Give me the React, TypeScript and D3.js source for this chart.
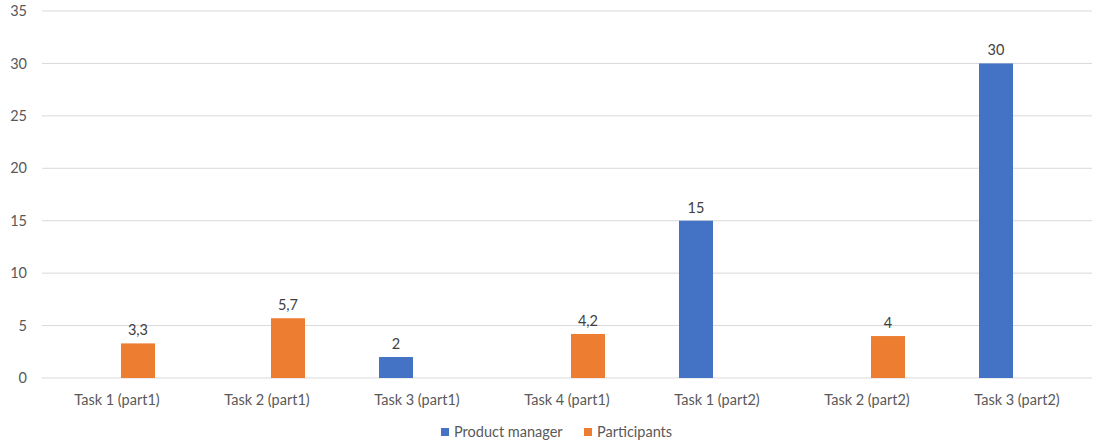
import React from "react";
import * as d3 from "d3";

// chart data
const categories = [
  "Task 1 (part1)",
  "Task 2 (part1)",
  "Task 3 (part1)",
  "Task 4 (part1)",
  "Task 1 (part2)",
  "Task 2 (part2)",
  "Task 3 (part2)",
];
const seriesNames = ["Product manager", "Participants"];
const productManager: (number | null)[] = [null, null, 2, null, 15, null, 30];
const participants: (number | null)[] = [3.3, 5.7, null, 4.2, null, 4, null];
const yTicks = [0, 5, 10, 15, 20, 25, 30, 35];
const colors = ["#4472C4", "#ED7D31"];

const width = 1096;
const height = 443;
const margin = { top: 11, right: 4, bottom: 65, left: 42 };
const font = "Lato, 'Open Sans', sans-serif";
const fs = 14.5;

const fmt = (v: number) => String(v).replace(".", ",");

const App: React.FC = () => {
  const x0 = d3
    .scaleBand<string>()
    .domain(categories)
    .range([margin.left, width - margin.right])
    .padding(0);

  const x1 = d3
    .scaleBand<string>()
    .domain(seriesNames)
    .range([x0.bandwidth() / 2 - 38, x0.bandwidth() / 2 + 38])
    .paddingInner(0.19);

  const y = d3
    .scaleLinear()
    .domain([0, 35])
    .range([height - margin.bottom, margin.top]);

  const allSeries = [productManager, participants];

  return (
    <svg
      width={width}
      height={height}
      style={{ position: "absolute", left: 0, top: 0, background: "#fff" }}
      fontFamily={font}
    >
      {/* gridlines + y labels */}
      {yTicks.map((t) => (
        <g key={t}>
          <line
            x1={margin.left}
            x2={width - margin.right}
            y1={y(t)}
            y2={y(t)}
            stroke="#d9d9d9"
            strokeWidth={1}
          />
          <text
            x={27}
            y={y(t)}
            dy="0.35em"
            textAnchor="end"
            fontSize={fs}
            fill="#595959"
          >
            {t}
          </text>
        </g>
      ))}

      {/* bars */}
      {categories.map((c, i) => (
        <g key={c} transform={`translate(${x0(c)},0)`}>
          {allSeries.map((s, si) => {
            const v = s[i];
            if (v == null) return null;
            const bx = x1(seriesNames[si]) as number;
            return (
              <g key={si}>
                <rect
                  x={bx}
                  y={y(v)}
                  width={x1.bandwidth()}
                  height={y(0) - y(v)}
                  fill={colors[si]}
                />
                <text
                  x={bx + x1.bandwidth() / 2}
                  y={y(v) - 8}
                  textAnchor="middle"
                  fontSize={fs}
                  fill="#404040"
                >
                  {fmt(v)}
                </text>
              </g>
            );
          })}
          <text
            x={x0.bandwidth() / 2}
            y={y(0) + 22}
            dy="0.35em"
            textAnchor="middle"
            fontSize={fs}
            fill="#595959"
          >
            {c}
          </text>
        </g>
      ))}

      {/* legend */}
      <g>
        <rect x={441} y={428} width={8} height={8} fill={colors[0]} />
        <text x={454} y={432} dy="0.35em" fontSize={fs} fill="#595959">
          {seriesNames[0]}
        </text>
        <rect x={584} y={428} width={8} height={8} fill={colors[1]} />
        <text x={597} y={432} dy="0.35em" fontSize={fs} fill="#595959">
          {seriesNames[1]}
        </text>
      </g>
    </svg>
  );
};

export default App;
